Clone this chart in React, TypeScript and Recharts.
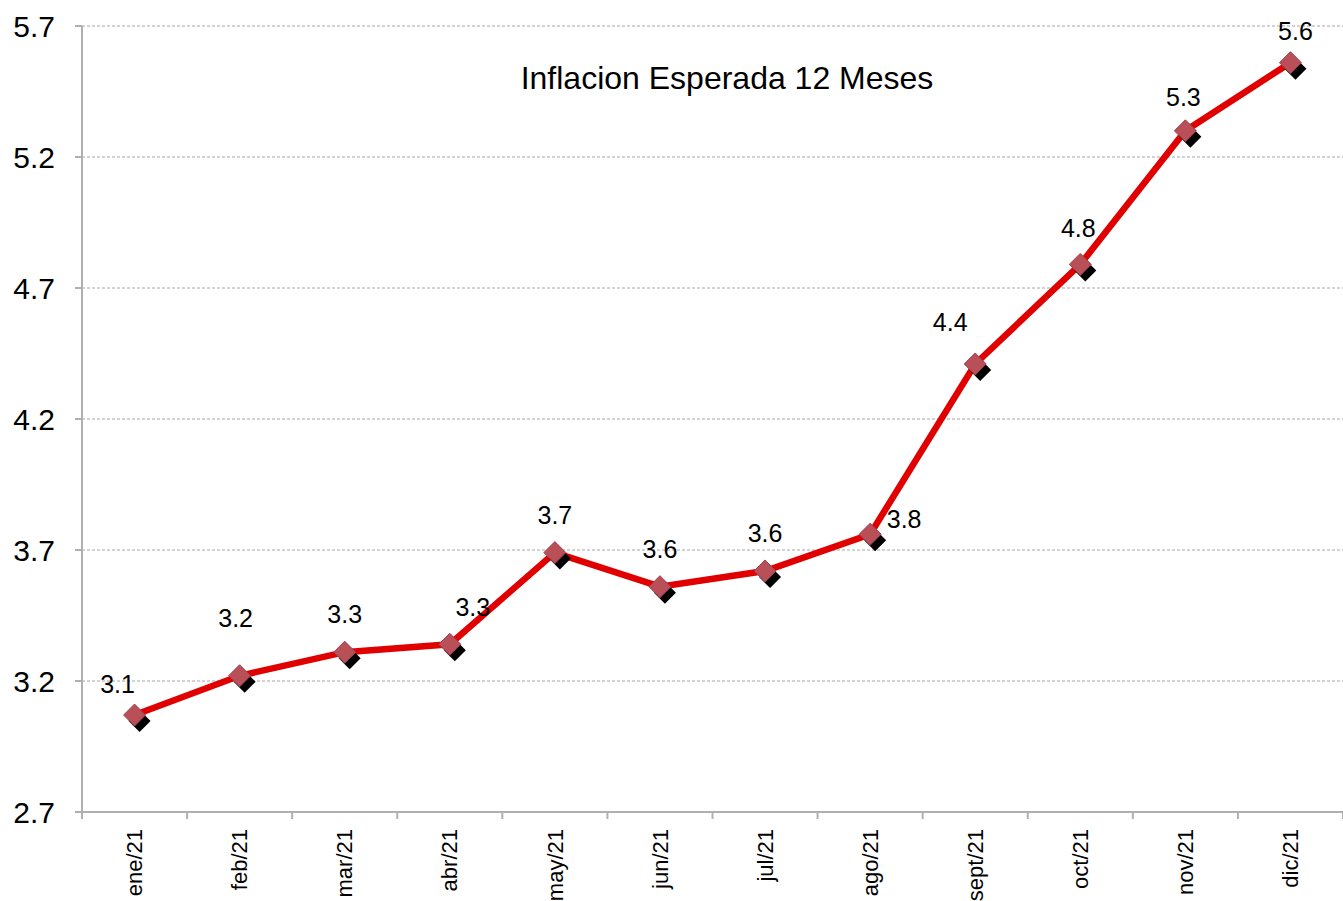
import { CartesianGrid, LabelList, Line, LineChart, XAxis, YAxis } from "recharts"

const months = ["ene/21", "feb/21", "mar/21", "abr/21", "may/21", "jun/21", "jul/21", "ago/21", "sept/21", "oct/21", "nov/21", "dic/21"]
const expected = [3.07, 3.22, 3.31, 3.34, 3.69, 3.56, 3.62, 3.76, 4.41, 4.79, 5.3, 5.56]
const yTicks = [2.7, 3.2, 3.7, 4.2, 4.7, 5.2, 5.7]
const title = "Inflacion Esperada 12 Meses"

// where each value label sits relative to its marker
const labelShift = [
  [-17, -31], [-4, -58], [0, -38], [23, -37], [0, -37], [0, -37],
  [0, -38], [34, -15], [-25, -42], [-2, -36], [-2, -34], [5, -31],
]

const data = months.map((m, i) => ({ month: m, value: expected[i] }))

const W = 1343
const H = 901
const LEFT = 82
const STEP = (W - LEFT) / months.length
const FONT = '"Liberation Sans", Arial, sans-serif'
const AXIS = "#b0b0b0"

function MonthTick(props: any) {
  const { x, y, payload, index } = props
  const half = STEP / 2
  const ty = y + 17
  return (
    <g>
      <line x1={x - half} x2={x - half} y1={y} y2={y + 7} stroke={AXIS} strokeWidth={2} />
      {index === months.length - 1 && (
        <line x1={x + half} x2={x + half} y1={y} y2={y + 7} stroke={AXIS} strokeWidth={2} />
      )}
      <text
        x={x}
        y={ty}
        dy="0.35em"
        textAnchor="end"
        transform={`rotate(-90, ${x}, ${ty})`}
        fontSize={22}
        fontFamily={FONT}
        fill="#000"
      >
        {payload.value}
      </text>
    </g>
  )
}

function Diamond(props: any) {
  const { cx, cy } = props
  if (cx == null || cy == null) return null
  const r = 11
  const pts = (x: number, y: number) => `${x},${y - r} ${x + r},${y} ${x},${y + r} ${x - r},${y}`
  return (
    <g>
      <polygon points={pts(cx + 5, cy + 6)} fill="#000" />
      <polygon points={pts(cx, cy)} fill="#b94f57" stroke="#9c3f55" strokeWidth={1} />
    </g>
  )
}

function ValueLabel(props: any) {
  const { x, y, value, index } = props
  const [dx, dy] = labelShift[index] || [0, -36]
  return (
    <text
      x={x + dx}
      y={y + dy}
      dy="0.35em"
      textAnchor="middle"
      fontSize={25}
      fontFamily={FONT}
      fill="#000"
    >
      {Number(value).toFixed(1)}
    </text>
  )
}

export default function App() {
  return (
    <div style={{ position: "absolute", left: 0, top: 0, width: W, height: H, background: "#fff", fontFamily: FONT }}>
      <LineChart width={W} height={H} data={data} margin={{ top: 26, right: 0, bottom: 0, left: 0 }}>
        <CartesianGrid vertical={false} stroke="#a6a6a6" strokeDasharray="3 2" />
        <XAxis
          dataKey="month"
          height={89}
          padding={{ left: STEP / 2, right: STEP / 2 }}
          axisLine={{ stroke: AXIS, strokeWidth: 2 }}
          tickLine={false}
          tickSize={0}
          tickMargin={0}
          interval={0}
          tick={<MonthTick />}
        />
        <YAxis
          domain={[2.7, 5.7]}
          ticks={yTicks}
          width={LEFT}
          interval={0}
          axisLine={{ stroke: AXIS, strokeWidth: 2 }}
          tickLine={{ stroke: AXIS, strokeWidth: 2 }}
          tickSize={7}
          tickMargin={20}
          tick={{ fontSize: 30, fill: "#000", fontFamily: FONT }}
          tickFormatter={(v: number) => v.toFixed(1)}
        />
        <Line
          type="linear"
          dataKey="value"
          stroke="#e00000"
          strokeWidth={6.5}
          dot={(p: any) => <Diamond key={`d${p.index}`} {...p} />}
          activeDot={false}
          isAnimationActive={false}
        >
          <LabelList dataKey="value" content={<ValueLabel />} />
        </Line>
      </LineChart>
      <div
        style={{
          position: "absolute",
          left: 427,
          top: 62,
          width: 600,
          textAlign: "center",
          fontSize: 32,
          lineHeight: "32px",
          whiteSpace: "nowrap",
          color: "#000",
        }}
      >
        {title}
      </div>
    </div>
  )
}
